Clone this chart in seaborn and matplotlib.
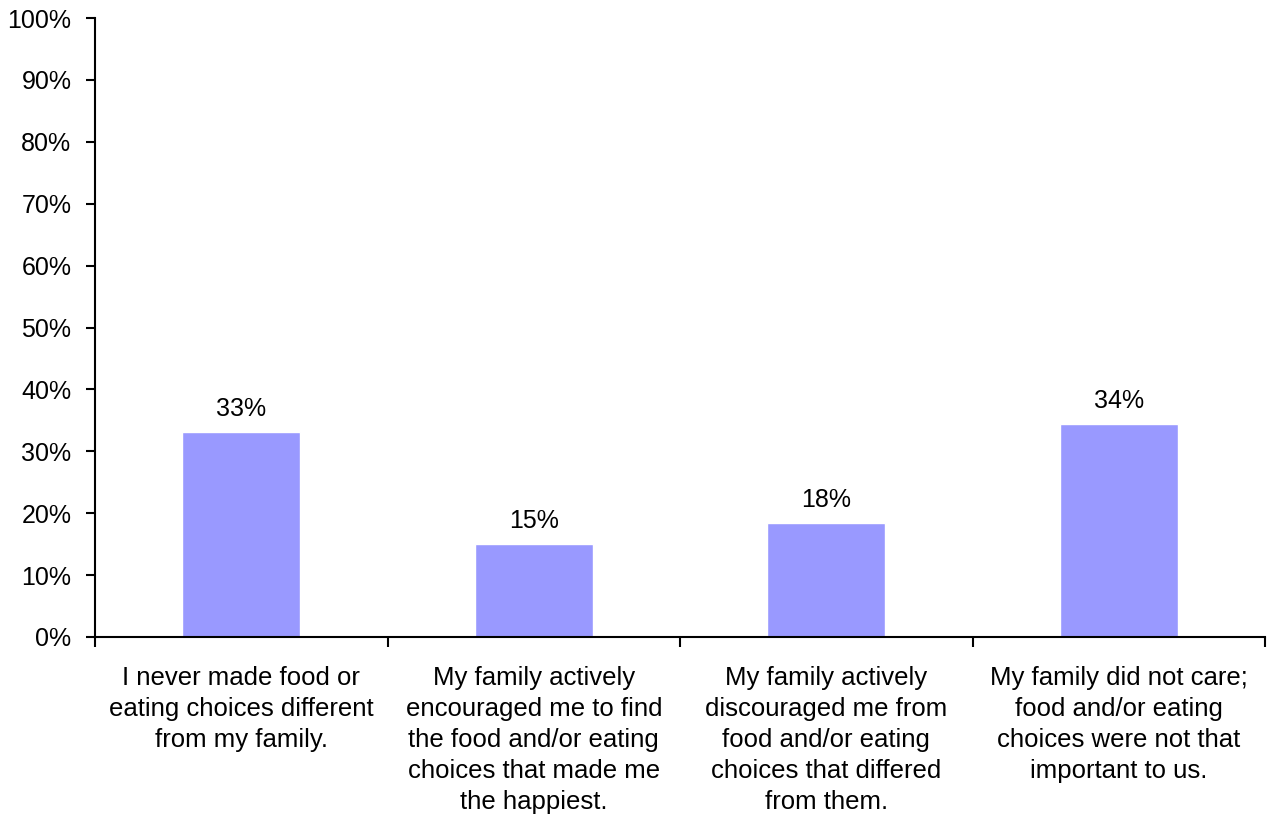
import matplotlib
matplotlib.use("Agg")
import matplotlib.pyplot as plt
import seaborn as sns
import pandas as pd
from matplotlib.ticker import PercentFormatter, FixedLocator

categories = [
    "I never made food or\neating choices different\nfrom my family.",
    "My family actively\nencouraged me to find\nthe food and/or eating\nchoices that made me\nthe happiest.",
    "My family actively\ndiscouraged me from\nfood and/or eating\nchoices that differed\nfrom them.",
    "My family did not care;\nfood and/or eating\nchoices were not that\nimportant to us.",
]
shares = [0.331, 0.150, 0.184, 0.344]

df = pd.DataFrame({"category": categories, "share": shares})

sns.set_style("white")
plt.rcParams["font.family"] = ["Liberation Sans", "DejaVu Sans"]
plt.rcParams["text.color"] = "black"
plt.rcParams["xtick.color"] = "black"
plt.rcParams["ytick.color"] = "black"

FS = 18

fig = plt.figure(figsize=(12.67, 8.27), dpi=100)
ax = fig.add_axes([95 / 1267, 1 - 637 / 827, (1265 - 95) / 1267, (637 - 18) / 827])

sns.barplot(data=df, x="category", y="share", color="#9999FF", width=0.405,
            saturation=1, ax=ax)

ax.set_xlim(-0.5, len(categories) - 0.5)
ax.set_ylim(0, 1)
ax.yaxis.set_major_locator(FixedLocator([i / 10 for i in range(11)]))
ax.yaxis.set_major_formatter(PercentFormatter(1.0, decimals=0))

for i, v in enumerate(shares):
    ax.text(i, v + 0.018, f"{v:.0%}", ha="center", va="bottom", fontsize=FS,
            color="black")

ax.set_xlabel("")
ax.set_ylabel("")
ax.set_xticks(range(len(categories)))
ax.set_xticklabels(categories, fontsize=18.5, linespacing=1.36, va="top", color="black")
ax.tick_params(axis="x", which="major", bottom=True, length=0, pad=21)
ax.set_xticks([i - 0.5 for i in range(len(categories) + 1)], minor=True)
ax.tick_params(axis="x", which="minor", bottom=True, length=7, width=1.5,
               direction="out", color="black")
ax.tick_params(axis="y", left=True, labelsize=FS, length=6.5, width=1.5,
               direction="out", color="black", labelcolor="black", pad=10.5)

for side in ["top", "right"]:
    ax.spines[side].set_visible(False)
for side in ["left", "bottom"]:
    ax.spines[side].set_color("black")
    ax.spines[side].set_linewidth(1.5)

fig.savefig("out.png", dpi=100, facecolor="white")
